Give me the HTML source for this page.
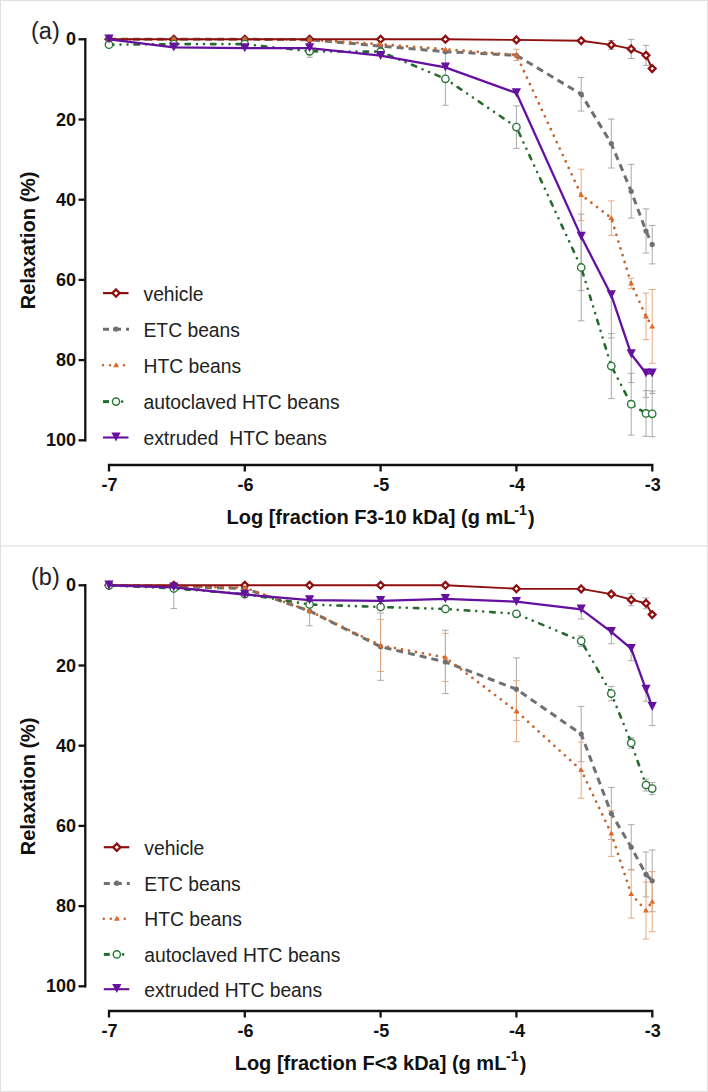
<!DOCTYPE html>
<html><head><meta charset="utf-8"><style>
html,body{margin:0;padding:0;background:#fff;}
svg{display:block;}
</style></head><body>
<svg width="708" height="1092" viewBox="0 0 708 1092">
<rect x="0" y="0" width="708" height="1092" fill="#fff"/>
<rect x="0.5" y="0.5" width="707" height="1091" fill="none" stroke="#e0e0e0" stroke-width="1"/>
<path d="M1 545.7H707" stroke="#e8e8e8" stroke-width="1.6"/>
<g stroke="#111" stroke-width="2.3" fill="none" stroke-linecap="butt">
<path d="M85.3 38.1V441.5"/>
<path d="M78.5 39.3H85.3"/>
<path d="M78.5 119.5H85.3"/>
<path d="M78.5 199.7H85.3"/>
<path d="M78.5 279.9H85.3"/>
<path d="M78.5 360.1H85.3"/>
<path d="M78.5 440.3H85.3"/>
<path d="M109 471.5V465.0H652.3V471.5"/>
<path d="M244.8 465V471.5" transform="translate(0,0)"/>
<path d="M380.6 465V471.5" transform="translate(0,0)"/>
<path d="M516.4 465V471.5" transform="translate(0,0)"/>
</g>
<g font-family="Liberation Sans" font-weight="bold" font-size="18" fill="#111" text-anchor="end">
<text x="76" y="45.3">0</text>
<text x="76" y="125.5">20</text>
<text x="76" y="205.7">40</text>
<text x="76" y="285.9">60</text>
<text x="76" y="366.1">80</text>
<text x="76" y="446.3">100</text>
</g>
<g font-family="Liberation Sans" font-weight="bold" font-size="18" fill="#111" text-anchor="middle">
<text x="109.6" y="491.2">-7</text>
<text x="245.4" y="491.2">-6</text>
<text x="381.2" y="491.2">-5</text>
<text x="517.0" y="491.2">-4</text>
<text x="652.8" y="491.2">-3</text>
</g>
<g font-family="Liberation Sans" font-weight="bold" fill="#111"><text x="226.5" y="524.2" font-size="20">Log [fraction F3-10 kDa] (g mL</text><text x="514.3" y="515.2" font-size="14">-1</text><text x="528.1" y="524.6" font-size="20">)</text></g>
<text transform="translate(35.2,309.3) rotate(-90)" font-family="Liberation Sans" font-weight="bold" font-size="20" fill="#111">Relaxation (%)</text>
<text x="31" y="38.5" font-family="Liberation Sans" font-size="23.5" fill="#222">(a)</text>
<g stroke="#a0a0a0" stroke-width="0.9" fill="none"><path d="M581.2 77.4V111.1M577.9 77.4h6.5M577.9 111.1h6.5"/><path d="M611.3 119.1V168.0M608.1 119.1h6.5M608.1 168.0h6.5"/><path d="M631.2 164.4V218.1M627.9 164.4h6.5M627.9 218.1h6.5"/><path d="M646.0 208.9V253.0M642.7 208.9h6.5M642.7 253.0h6.5"/><path d="M652.2 225.4V263.9M649.0 225.4h6.5M649.0 263.9h6.5"/></g>
<g stroke="#e8a070" stroke-width="0.9" fill="none"><path d="M516.4 49.3V60.6M513.2 49.3h6.5M513.2 60.6h6.5"/><path d="M581.2 169.2V220.6M577.9 169.2h6.5M577.9 220.6h6.5"/><path d="M611.3 200.9V235.4M608.1 200.9h6.5M608.1 235.4h6.5"/><path d="M631.2 278.3V288.7M627.9 278.3h6.5M627.9 288.7h6.5"/><path d="M646.0 293.1V339.6M642.7 293.1h6.5M642.7 339.6h6.5"/><path d="M652.2 289.5V363.3M649.0 289.5h6.5M649.0 363.3h6.5"/></g>
<g stroke="#a0a0a0" stroke-width="0.9" fill="none"><path d="M309.6 45.3V57.3M306.3 45.3h6.5M306.3 57.3h6.5"/><path d="M445.4 52.3V105.3M442.1 52.3h6.5M442.1 105.3h6.5"/><path d="M516.4 105.9V148.4M513.2 105.9h6.5M513.2 148.4h6.5"/><path d="M581.2 214.1V320.8M577.9 214.1h6.5M577.9 320.8h6.5"/><path d="M611.3 333.6V398.6M608.1 333.6h6.5M608.1 398.6h6.5"/><path d="M631.2 373.3V435.1M627.9 373.3h6.5M627.9 435.1h6.5"/><path d="M646.0 390.6V436.3M642.7 390.6h6.5M642.7 436.3h6.5"/><path d="M652.2 391.0V436.7M649.0 391.0h6.5M649.0 436.7h6.5"/></g>
<g stroke="#a0a0a0" stroke-width="0.9" fill="none"><path d="M581.2 236.6V290.7M577.9 290.7h6.5"/><path d="M611.3 295.1V338.0M608.1 338.0h6.5"/><path d="M631.2 354.1V382.6M627.9 382.6h6.5"/><path d="M646.0 373.3V397.4M642.7 397.4h6.5"/><path d="M652.2 373.3V393.4M649.0 393.4h6.5"/></g>
<g stroke="#a0a0a0" stroke-width="0.9" fill="none"><path d="M611.3 40.5V49.3M608.1 40.5h6.5M608.1 49.3h6.5"/><path d="M631.2 39.3V58.5M627.9 39.3h6.5M627.9 58.5h6.5"/><path d="M646.0 45.3V65.4M642.7 45.3h6.5M642.7 65.4h6.5"/></g>
<polyline points="109.0,39.3 173.8,39.3 244.8,39.3 309.6,39.7 380.6,46.1 445.4,51.7 516.4,55.3 581.2,94.2 611.3,143.6 631.2,191.3 646.0,231.0 652.2,244.6" fill="none" stroke="#707070" stroke-width="3" stroke-dasharray="7 5"/>
<polyline points="109.0,39.3 173.8,39.3 244.8,39.3 309.6,39.7 380.6,44.3 445.4,49.3 516.4,54.9 581.2,194.9 611.3,218.1 631.2,283.5 646.0,316.4 652.2,326.4" fill="none" stroke="#c4662f" stroke-width="2.8" stroke-linecap="round" stroke-dasharray="0 7.1"/>
<polyline points="109.0,39.3 173.8,39.3 244.8,39.3 309.6,39.3 380.6,39.3 445.4,39.3 516.4,39.9 581.2,40.7 611.3,44.9 631.2,48.9 646.0,55.3 652.2,68.6" fill="none" stroke="#8e0f0f" stroke-width="1.9"/>
<g fill="#fff" stroke="#8e0f0f" stroke-width="2.3"><path d="M109.0 35.9L112.4 39.3L109.0 42.7L105.6 39.3Z"/><path d="M173.8 35.9L177.2 39.3L173.8 42.7L170.4 39.3Z"/><path d="M244.8 35.9L248.2 39.3L244.8 42.7L241.4 39.3Z"/><path d="M309.6 35.9L313.0 39.3L309.6 42.7L306.2 39.3Z"/><path d="M380.6 35.9L384.0 39.3L380.6 42.7L377.2 39.3Z"/><path d="M445.4 35.9L448.8 39.3L445.4 42.7L442.0 39.3Z"/><path d="M516.4 36.5L519.8 39.9L516.4 43.3L513.0 39.9Z"/><path d="M581.2 37.3L584.6 40.7L581.2 44.1L577.8 40.7Z"/><path d="M611.3 41.5L614.7 44.9L611.3 48.3L607.9 44.9Z"/><path d="M631.2 45.5L634.6 48.9L631.2 52.3L627.8 48.9Z"/><path d="M646.0 51.9L649.4 55.3L646.0 58.7L642.6 55.3Z"/><path d="M652.2 65.2L655.6 68.6L652.2 72.0L648.8 68.6Z"/></g>
<g fill="#707070"><circle cx="109.0" cy="39.3" r="2.6"/><circle cx="173.8" cy="39.3" r="2.6"/><circle cx="244.8" cy="39.3" r="2.6"/><circle cx="309.6" cy="39.7" r="2.6"/><circle cx="380.6" cy="46.1" r="2.6"/><circle cx="445.4" cy="51.7" r="2.6"/><circle cx="516.4" cy="55.3" r="2.6"/><circle cx="581.2" cy="94.2" r="2.6"/><circle cx="611.3" cy="143.6" r="2.6"/><circle cx="631.2" cy="191.3" r="2.6"/><circle cx="646.0" cy="231.0" r="2.6"/><circle cx="652.2" cy="244.6" r="2.6"/></g>
<g fill="#e06a2a"><path d="M109.0 36.3L111.9 41.3L106.1 41.3Z"/><path d="M173.8 36.3L176.7 41.3L170.9 41.3Z"/><path d="M244.8 36.3L247.7 41.3L241.9 41.3Z"/><path d="M309.6 36.7L312.5 41.7L306.7 41.7Z"/><path d="M380.6 41.4L383.5 46.3L377.7 46.3Z"/><path d="M445.4 46.4L448.3 51.3L442.5 51.3Z"/><path d="M516.4 52.0L519.3 56.9L513.5 56.9Z"/><path d="M581.2 191.9L584.1 196.9L578.3 196.9Z"/><path d="M611.3 215.2L614.2 220.1L608.4 220.1Z"/><path d="M631.2 280.6L634.1 285.5L628.3 285.5Z"/><path d="M646.0 313.4L648.9 318.4L643.1 318.4Z"/><path d="M652.2 323.5L655.1 328.4L649.3 328.4Z"/></g>
<polyline points="109.0,44.7 173.8,44.1 244.8,44.1 309.6,51.3 380.6,51.7 445.4,78.8 516.4,127.1 581.2,267.5 611.3,366.1 631.2,404.2 646.0,413.4 652.2,413.8" fill="none" stroke="#276a2e" stroke-width="2.6" stroke-linecap="round" stroke-dasharray="4.5 7 0 7 0 7"/>
<g fill="#fff" stroke="#2d7538" stroke-width="1.4"><circle cx="109.0" cy="44.7" r="3.7"/><circle cx="173.8" cy="44.1" r="3.7"/><circle cx="244.8" cy="44.1" r="3.7"/><circle cx="309.6" cy="51.3" r="3.7"/><circle cx="380.6" cy="51.7" r="3.7"/><circle cx="445.4" cy="78.8" r="3.7"/><circle cx="516.4" cy="127.1" r="3.7"/><circle cx="581.2" cy="267.5" r="3.7"/><circle cx="611.3" cy="366.1" r="3.7"/><circle cx="631.2" cy="404.2" r="3.7"/><circle cx="646.0" cy="413.4" r="3.7"/><circle cx="652.2" cy="413.8" r="3.7"/></g>
<polyline points="109.0,39.3 173.8,47.3 244.8,48.1 309.6,48.1 380.6,55.7 445.4,67.4 516.4,93.0 581.2,236.6 611.3,295.1 631.2,354.1 646.0,373.3 652.2,373.3" fill="none" stroke="#6610a0" stroke-width="2.3"/>
<g fill="#6610a0"><path d="M104.4 34.5L113.6 34.5L109.0 43.5Z"/><path d="M169.2 42.5L178.4 42.5L173.8 51.5Z"/><path d="M240.2 43.3L249.4 43.3L244.8 52.3Z"/><path d="M305.0 43.3L314.2 43.3L309.6 52.3Z"/><path d="M376.0 50.9L385.2 50.9L380.6 59.9Z"/><path d="M440.8 62.6L450.0 62.6L445.4 71.6Z"/><path d="M511.8 88.2L521.0 88.2L516.4 97.2Z"/><path d="M576.6 231.8L585.8 231.8L581.2 240.8Z"/><path d="M606.7 290.3L615.9 290.3L611.3 299.3Z"/><path d="M626.6 349.3L635.8 349.3L631.2 358.3Z"/><path d="M641.4 368.5L650.6 368.5L646.0 377.5Z"/><path d="M647.6 368.5L656.8 368.5L652.2 377.5Z"/></g>
<g fill="none"><g transform="translate(0,0)"><path d="M103 293.1H128.5" stroke="#8e0f0f" stroke-width="2.2"/><g fill="#fff" stroke="#8e0f0f" stroke-width="2.3"><path d="M116.0 289.5L119.6 293.1L116.0 296.7L112.4 293.1Z"/></g><path d="M103 329.3H129" stroke="#707070" stroke-width="3" stroke-dasharray="6 4 8 5 3"/><g fill="#707070"><circle cx="116.0" cy="329.1" r="2.6"/></g><path d="M103 365.3H128.5" stroke="#c4662f" stroke-width="2.6" stroke-linecap="round" stroke-dasharray="0 7"/><g fill="#e06a2a"><path d="M116.0 362.3L118.9 367.3L113.1 367.3Z"/></g><path d="M103 401.6H109" stroke="#276a2e" stroke-width="3"/><circle cx="122.2" cy="401.6" r="1.3" fill="#276a2e"/><g fill="#f0fff0" stroke="#2d7538" stroke-width="1.4"><circle cx="116.0" cy="401.6" r="3.6"/></g><path d="M103 437.5H128.5" stroke="#6610a0" stroke-width="2.1"/><g fill="#6610a0"><path d="M111.4 432.4L120.6 432.4L116.0 441.4Z"/></g></g></g>
<g font-family="Liberation Sans" font-size="19.3" fill="#222" style="white-space:pre">
<text x="143.5" y="300.6">vehicle</text>
<text x="143.5" y="336.6">ETC beans</text>
<text x="143.5" y="372.8">HTC beans</text>
<text x="143.5" y="409.1">autoclaved HTC beans</text>
<text x="143.5" y="445.0">extruded &#160;HTC beans</text>
</g>
<g stroke="#111" stroke-width="2.3" fill="none" stroke-linecap="butt">
<path d="M85.3 584.1V987.5"/>
<path d="M78.5 585.3H85.3"/>
<path d="M78.5 665.5H85.3"/>
<path d="M78.5 745.7H85.3"/>
<path d="M78.5 825.9H85.3"/>
<path d="M78.5 906.1H85.3"/>
<path d="M78.5 986.3H85.3"/>
<path d="M109 1017.5V1011.0H652.3V1017.5"/>
<path d="M244.8 465V471.5" transform="translate(0,546.0)"/>
<path d="M380.6 465V471.5" transform="translate(0,546.0)"/>
<path d="M516.4 465V471.5" transform="translate(0,546.0)"/>
</g>
<g font-family="Liberation Sans" font-weight="bold" font-size="18" fill="#111" text-anchor="end">
<text x="76" y="591.3">0</text>
<text x="76" y="671.5">20</text>
<text x="76" y="751.7">40</text>
<text x="76" y="831.9">60</text>
<text x="76" y="912.1">80</text>
<text x="76" y="992.3">100</text>
</g>
<g font-family="Liberation Sans" font-weight="bold" font-size="18" fill="#111" text-anchor="middle">
<text x="109.6" y="1037.2">-7</text>
<text x="245.4" y="1037.2">-6</text>
<text x="381.2" y="1037.2">-5</text>
<text x="517.0" y="1037.2">-4</text>
<text x="652.8" y="1037.2">-3</text>
</g>
<g font-family="Liberation Sans" font-weight="bold" fill="#111"><text x="234.7" y="1070.2" font-size="20">Log [fraction F&lt;3 kDa] (g mL</text><text x="506.1" y="1061.2" font-size="14">-1</text><text x="519.7" y="1070.6" font-size="20">)</text></g>
<text transform="translate(35.2,855.3) rotate(-90)" font-family="Liberation Sans" font-weight="bold" font-size="20" fill="#111">Relaxation (%)</text>
<text x="31" y="584.5" font-family="Liberation Sans" font-size="23.5" fill="#222">(b)</text>
<g stroke="#a0a0a0" stroke-width="0.9" fill="none"><path d="M173.8 585.3V608.6M170.5 608.6h6.5"/><path d="M309.6 596.1V625.8M306.3 596.1h6.5M306.3 625.8h6.5"/><path d="M380.6 613.0V680.3M377.4 613.0h6.5M377.4 680.3h6.5"/><path d="M445.4 630.2V693.6M442.1 630.2h6.5M442.1 693.6h6.5"/><path d="M516.4 657.9V720.4M513.2 657.9h6.5M513.2 720.4h6.5"/><path d="M581.2 706.4V761.7M577.9 706.4h6.5M577.9 761.7h6.5"/><path d="M611.3 787.4V839.5M608.1 787.4h6.5M608.1 839.5h6.5"/><path d="M631.2 824.7V869.6M627.9 824.7h6.5M627.9 869.6h6.5"/><path d="M646.0 852.0V896.9M642.7 852.0h6.5M642.7 896.9h6.5"/><path d="M652.2 850.0V911.7M649.0 850.0h6.5M649.0 911.7h6.5"/></g>
<g stroke="#e8a070" stroke-width="0.9" fill="none"><path d="M380.6 619.4V671.5M377.4 619.4h6.5M377.4 671.5h6.5"/><path d="M445.4 633.4V681.5M442.1 633.4h6.5M442.1 681.5h6.5"/><path d="M516.4 680.7V741.7M513.2 680.7h6.5M513.2 741.7h6.5"/><path d="M581.2 742.1V798.2M577.9 742.1h6.5M577.9 798.2h6.5"/><path d="M611.3 810.7V856.4M608.1 810.7h6.5M608.1 856.4h6.5"/><path d="M631.2 870.0V918.1M627.9 870.0h6.5M627.9 918.1h6.5"/><path d="M646.0 882.0V939.0M642.7 882.0h6.5M642.7 939.0h6.5"/><path d="M652.2 871.6V931.8M649.0 871.6h6.5M649.0 931.8h6.5"/></g>
<g stroke="#a0a0a0" stroke-width="0.9" fill="none"><path d="M581.2 635.8V646.3M577.9 635.8h6.5M577.9 646.3h6.5"/><path d="M611.3 686.4V700.8M608.1 686.4h6.5M608.1 700.8h6.5"/><path d="M631.2 737.7V748.1M627.9 737.7h6.5M627.9 748.1h6.5"/><path d="M646.0 779.0V791.0M642.7 779.0h6.5M642.7 791.0h6.5"/><path d="M652.2 782.6V794.6M649.0 782.6h6.5M649.0 794.6h6.5"/></g>
<g stroke="#a0a0a0" stroke-width="0.9" fill="none"><path d="M581.2 609.4V619.0M577.9 619.0h6.5"/><path d="M611.3 631.8V643.8M608.1 643.8h6.5"/><path d="M631.2 648.7V660.7M627.9 660.7h6.5"/><path d="M646.0 689.6V701.2M642.7 701.2h6.5"/><path d="M652.2 706.8V725.6M649.0 725.6h6.5"/></g>
<g stroke="#a0a0a0" stroke-width="0.9" fill="none"><path d="M611.3 592.1V596.1M608.1 592.1h6.5M608.1 596.1h6.5"/><path d="M631.2 593.7V605.8M627.9 593.7h6.5M627.9 605.8h6.5"/><path d="M646.0 597.9V608.8M642.7 597.9h6.5M642.7 608.8h6.5"/></g>
<polyline points="109.0,585.3 173.8,586.5 244.8,588.5 309.6,611.0 380.6,646.7 445.4,661.9 516.4,689.2 581.2,734.1 611.3,813.5 631.2,847.2 646.0,874.4 652.2,880.8" fill="none" stroke="#707070" stroke-width="3" stroke-dasharray="7 5"/>
<polyline points="109.0,585.3 173.8,586.5 244.8,587.7 309.6,611.0 380.6,645.4 445.4,657.5 516.4,711.2 581.2,770.2 611.3,833.5 631.2,894.1 646.0,910.5 652.2,901.7" fill="none" stroke="#c4662f" stroke-width="2.8" stroke-linecap="round" stroke-dasharray="0 7.1"/>
<polyline points="109.0,585.3 173.8,585.3 244.8,585.3 309.6,585.3 380.6,585.3 445.4,585.3 516.4,588.7 581.2,588.9 611.3,594.1 631.2,599.7 646.0,603.3 652.2,614.6" fill="none" stroke="#8e0f0f" stroke-width="1.9"/>
<g fill="#fff" stroke="#8e0f0f" stroke-width="2.3"><path d="M109.0 581.9L112.4 585.3L109.0 588.7L105.6 585.3Z"/><path d="M173.8 581.9L177.2 585.3L173.8 588.7L170.4 585.3Z"/><path d="M244.8 581.9L248.2 585.3L244.8 588.7L241.4 585.3Z"/><path d="M309.6 581.9L313.0 585.3L309.6 588.7L306.2 585.3Z"/><path d="M380.6 581.9L384.0 585.3L380.6 588.7L377.2 585.3Z"/><path d="M445.4 581.9L448.8 585.3L445.4 588.7L442.0 585.3Z"/><path d="M516.4 585.3L519.8 588.7L516.4 592.1L513.0 588.7Z"/><path d="M581.2 585.5L584.6 588.9L581.2 592.3L577.8 588.9Z"/><path d="M611.3 590.7L614.7 594.1L611.3 597.5L607.9 594.1Z"/><path d="M631.2 596.3L634.6 599.7L631.2 603.1L627.8 599.7Z"/><path d="M646.0 599.9L649.4 603.3L646.0 606.7L642.6 603.3Z"/><path d="M652.2 611.2L655.6 614.6L652.2 618.0L648.8 614.6Z"/></g>
<g fill="#707070"><circle cx="109.0" cy="585.3" r="2.6"/><circle cx="173.8" cy="586.5" r="2.6"/><circle cx="244.8" cy="588.5" r="2.6"/><circle cx="309.6" cy="611.0" r="2.6"/><circle cx="380.6" cy="646.7" r="2.6"/><circle cx="445.4" cy="661.9" r="2.6"/><circle cx="516.4" cy="689.2" r="2.6"/><circle cx="581.2" cy="734.1" r="2.6"/><circle cx="611.3" cy="813.5" r="2.6"/><circle cx="631.2" cy="847.2" r="2.6"/><circle cx="646.0" cy="874.4" r="2.6"/><circle cx="652.2" cy="880.8" r="2.6"/></g>
<g fill="#e06a2a"><path d="M109.0 582.3L111.9 587.3L106.1 587.3Z"/><path d="M173.8 583.5L176.7 588.5L170.9 588.5Z"/><path d="M244.8 584.7L247.7 589.7L241.9 589.7Z"/><path d="M309.6 608.0L312.5 612.9L306.7 612.9Z"/><path d="M380.6 642.5L383.5 647.4L377.7 647.4Z"/><path d="M445.4 654.5L448.3 659.5L442.5 659.5Z"/><path d="M516.4 708.3L519.3 713.2L513.5 713.2Z"/><path d="M581.2 767.2L584.1 772.1L578.3 772.1Z"/><path d="M611.3 830.6L614.2 835.5L608.4 835.5Z"/><path d="M631.2 891.1L634.1 896.0L628.3 896.0Z"/><path d="M646.0 907.6L648.9 912.5L643.1 912.5Z"/><path d="M652.2 898.7L655.1 903.7L649.3 903.7Z"/></g>
<polyline points="109.0,585.3 173.8,588.5 244.8,594.1 309.6,604.5 380.6,607.0 445.4,609.0 516.4,613.8 581.2,641.0 611.3,693.6 631.2,742.9 646.0,785.0 652.2,788.6" fill="none" stroke="#276a2e" stroke-width="2.6" stroke-linecap="round" stroke-dasharray="4.5 7 0 7 0 7"/>
<g fill="#fff" stroke="#2d7538" stroke-width="1.4"><circle cx="109.0" cy="585.3" r="3.7"/><circle cx="173.8" cy="588.5" r="3.7"/><circle cx="244.8" cy="594.1" r="3.7"/><circle cx="309.6" cy="604.5" r="3.7"/><circle cx="380.6" cy="607.0" r="3.7"/><circle cx="445.4" cy="609.0" r="3.7"/><circle cx="516.4" cy="613.8" r="3.7"/><circle cx="581.2" cy="641.0" r="3.7"/><circle cx="611.3" cy="693.6" r="3.7"/><circle cx="631.2" cy="742.9" r="3.7"/><circle cx="646.0" cy="785.0" r="3.7"/><circle cx="652.2" cy="788.6" r="3.7"/></g>
<polyline points="109.0,585.3 173.8,587.3 244.8,594.5 309.6,600.1 380.6,600.9 445.4,598.9 516.4,601.7 581.2,609.4 611.3,631.8 631.2,648.7 646.0,689.6 652.2,706.8" fill="none" stroke="#6610a0" stroke-width="2.3"/>
<g fill="#6610a0"><path d="M104.4 580.5L113.6 580.5L109.0 589.5Z"/><path d="M169.2 582.5L178.4 582.5L173.8 591.5Z"/><path d="M240.2 589.7L249.4 589.7L244.8 598.7Z"/><path d="M305.0 595.3L314.2 595.3L309.6 604.3Z"/><path d="M376.0 596.1L385.2 596.1L380.6 605.1Z"/><path d="M440.8 594.1L450.0 594.1L445.4 603.1Z"/><path d="M511.8 596.9L521.0 596.9L516.4 605.9Z"/><path d="M576.6 604.6L585.8 604.6L581.2 613.6Z"/><path d="M606.7 627.0L615.9 627.0L611.3 636.0Z"/><path d="M626.6 643.9L635.8 643.9L631.2 652.9Z"/><path d="M641.4 684.8L650.6 684.8L646.0 693.8Z"/><path d="M647.6 702.0L656.8 702.0L652.2 711.0Z"/></g>
<g fill="none"><g transform="translate(0.8,0)"><path d="M103 847.2H128.5" stroke="#8e0f0f" stroke-width="2.2"/><g fill="#fff" stroke="#8e0f0f" stroke-width="2.3"><path d="M116.0 843.6L119.6 847.2L116.0 850.8L112.4 847.2Z"/></g><path d="M103 883.4H129" stroke="#707070" stroke-width="3" stroke-dasharray="6 4 8 5 3"/><g fill="#707070"><circle cx="116.0" cy="883.2" r="2.6"/></g><path d="M103 918.8H128.5" stroke="#c4662f" stroke-width="2.6" stroke-linecap="round" stroke-dasharray="0 7"/><g fill="#e06a2a"><path d="M116.0 915.8L118.9 920.8L113.1 920.8Z"/></g><path d="M103 954.4H109" stroke="#276a2e" stroke-width="3"/><circle cx="122.2" cy="954.4" r="1.3" fill="#276a2e"/><g fill="#f0fff0" stroke="#2d7538" stroke-width="1.4"><circle cx="116.0" cy="954.4" r="3.6"/></g><path d="M103 989.2H128.5" stroke="#6610a0" stroke-width="2.1"/><g fill="#6610a0"><path d="M111.4 984.1L120.6 984.1L116.0 993.1Z"/></g></g></g>
<g font-family="Liberation Sans" font-size="19.3" fill="#222" style="white-space:pre">
<text x="144.3" y="854.7">vehicle</text>
<text x="144.3" y="890.7">ETC beans</text>
<text x="144.3" y="926.3">HTC beans</text>
<text x="144.3" y="961.9">autoclaved HTC beans</text>
<text x="144.3" y="996.7">extruded HTC beans</text>
</g>
</svg>
</body></html>
